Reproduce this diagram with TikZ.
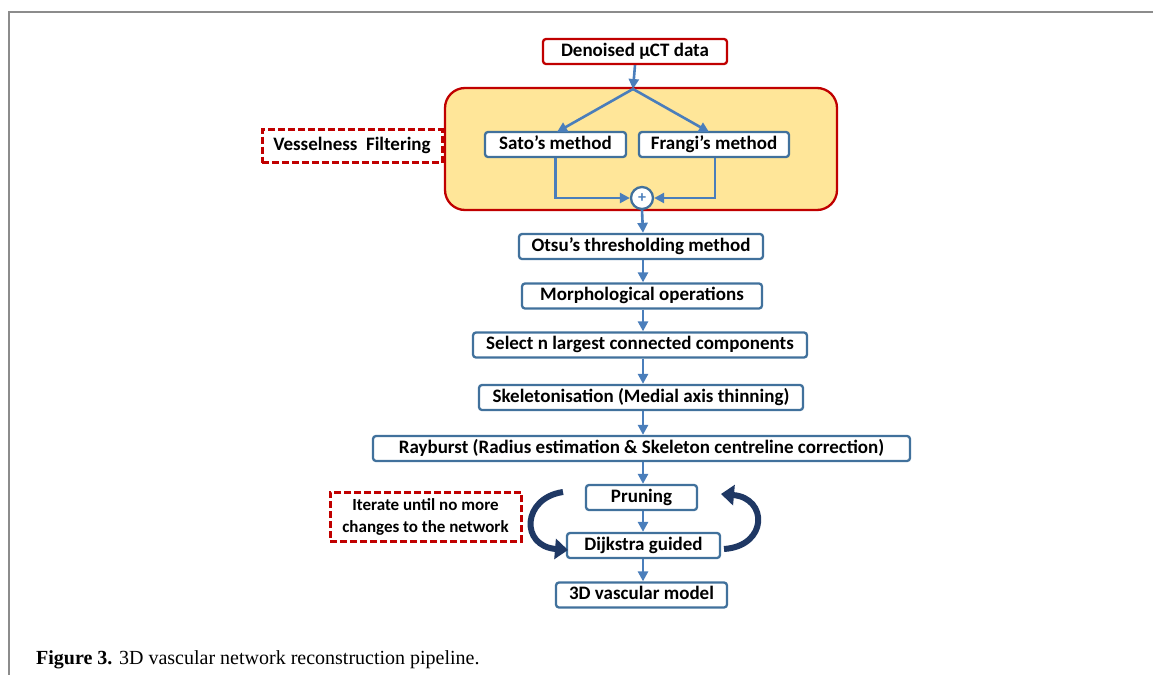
\documentclass[tikz,border=0pt]{standalone}
\usepackage{fontspec}
\setmainfont{Carlito}
\newfontfamily\capfont{Liberation Serif}
\usetikzlibrary{arrows.meta,calc}
\definecolor{boxred}{HTML}{C00000}
\definecolor{boxblue}{HTML}{41719C}
\definecolor{arrblue}{HTML}{4A7EBB}
\definecolor{fillyel}{HTML}{FFE699}
\definecolor{navy}{HTML}{1F3864}
\definecolor{framegray}{HTML}{8C8C8C}
\tikzset{
  stepbox/.style={draw=boxblue, line width=2.3pt, rounded corners=3pt, fill=white,
     font=\bfseries\fontsize{19}{21}\selectfont, inner sep=0pt,
     text height=13pt, text depth=4pt, minimum height=25pt, align=center},
  redbox/.style={stepbox, draw=boxred},
  notebox/.style={draw=boxred, line width=3pt, dash pattern=on 7pt off 3pt, fill=white,
     font=\bfseries\fontsize{17}{22}\selectfont, inner sep=0pt, align=center},
  flow/.style={draw=arrblue, line width=2.6pt, -{Triangle[length=10pt,width=10pt]}},
  loop/.style={draw=navy, line width=6pt, -{Triangle[length=13pt,width=20pt]}}
}
\begin{document}
\begin{tikzpicture}[x=1pt,y=-1pt]
\useasboundingbox (0,0) rectangle (1153,675);
% frame
\draw[framegray, line width=2pt] (1153,12) -- (9,12) -- (9,675);
% filter container
\node[draw=boxred, line width=2.3pt, fill=fillyel, rounded corners=20pt,
      minimum width=392pt, minimum height=122pt, inner sep=0pt] (filt) at (641,149) {};
\node[redbox, minimum width=184pt] (den) at (635,51.5) {Denoised µCT data};
\node[notebox, font=\bfseries\fontsize{19}{21}\selectfont, text height=13pt, text depth=4pt,
      minimum width=180pt, minimum height=33pt] (vf) at (352,146) {Vesselness\ \ Filtering};
\node[stepbox, minimum width=141pt] (sato) at (555.5,144.5) {Sato’s method};
\node[stepbox, minimum width=150pt] (frangi) at (714,144.5) {Frangi’s method};
\coordinate (split) at (633,89);
\node[circle, draw=boxblue, line width=2.3pt, fill=white, minimum size=22pt, inner sep=0pt,
      text=arrblue, font=\bfseries\fontsize{16}{16}\selectfont] (plus) at (642,198) {+};
% main column
\node[stepbox, minimum width=244pt] (otsu) at (641,246.5) {Otsu’s thresholding method};
\node[stepbox, minimum width=240pt] (morph) at (642,296) {Morphological operations};
\node[stepbox, minimum width=334pt] (sel) at (640,345) {Select n largest connected components};
\node[stepbox, minimum width=324pt] (skel) at (641,397.5) {Skeletonisation (Medial axis thinning)};
\node[stepbox, minimum width=537pt] (ray) at (641.5,448.5) {Rayburst (Radius estimation \& Skeleton centreline correction)};
\node[stepbox, minimum width=111pt] (prune) at (641.5,497.5) {Pruning};
\node[stepbox, minimum width=153pt] (dijk) at (643.5,545.5) {Dijkstra guided};
\node[stepbox, minimum width=171pt] (model) at (641.5,595) {3D vascular model};
\node[notebox, minimum width=191pt, minimum height=49pt] (iter) at (425.5,516.5) {Iterate until no more\\changes to the network};
% connectors
\draw[flow] (den.south) -- (split);
\draw[flow] (split) -- (557,132) coordinate (satoin);
\draw[flow] (split) -- (709,132) coordinate (frangiin);
\draw[flow] (sato.south) |- (plus.west);
\draw[flow] (frangi.south -| 715,0) |- (plus.east);
\coordinate (col) at (643,0);
\draw[flow] (plus.south) -- (col |- otsu.north);
\draw[flow] (col |- otsu.south) -- (col |- morph.north);
\draw[flow] (col |- morph.south) -- (col |- sel.north);
\draw[flow] (col |- sel.south) -- (col |- skel.north);
\draw[flow] (col |- skel.south) -- (col |- ray.north);
\draw[flow] (col |- ray.south) -- (col |- prune.north);
\draw[flow] (col |- prune.south) -- (col |- dijk.north);
\draw[flow] (col |- dijk.south) -- (col |- model.north);
% iteration loops
\coordinate (ltail) at (563,492);
\coordinate (lhead) at (568,550);
\coordinate (rtail) at (724,549);
\coordinate (rhead) at (721,494);
\draw[loop] (ltail) .. controls (522,498) and (520,546) .. (lhead);
\draw[loop] (rtail) .. controls (768,546) and (768,498) .. (rhead);
% caption
\node[anchor=base west, inner sep=0pt, font=\capfont\fontsize{20}{22}\selectfont] (cap) at (36,664)
  {\textbf{Figure 3.} 3D vascular network reconstruction pipeline.};
\end{tikzpicture}
\end{document}
